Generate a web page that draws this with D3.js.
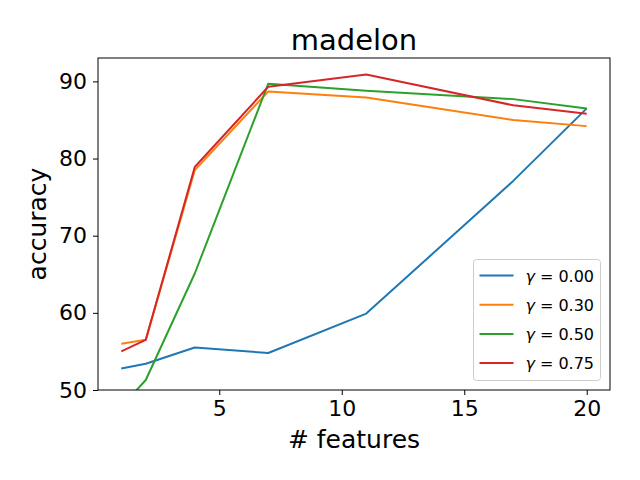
<!DOCTYPE html>
<html>
<head>
<meta charset="utf-8">
<script src="https://cdn.jsdelivr.net/npm/d3@7"></script>
<style>
  body { margin: 0; background: white; }
  svg { font-family: "DejaVu Sans", sans-serif; }
</style>
</head>
<body>
<svg id="chart" width="640" height="480"></svg>
<script>
// data
const features = [1, 2, 4, 7, 11, 17, 20];
const gammaLabels = ["0.00", "0.30", "0.50", "0.75"];
const acc_g000 = [52.8, 53.4, 55.5, 54.8, 59.9, 77.1, 86.5];
const acc_g030 = [56.0, 56.5, 78.5, 88.7, 87.9, 85.0, 84.2];
const acc_g050 = [47.8, 51.3, 65.1, 89.7, 88.8, 87.7, 86.5];
const acc_g075 = [55.0, 56.5, 78.9, 89.3, 90.9, 86.9, 85.8];
const xTicks = [5, 10, 15, 20];
const yTicks = [50, 60, 70, 80, 90];

const seriesList = [acc_g000, acc_g030, acc_g050, acc_g075];
const colors = ["#1f77b4", "#ff7f0e", "#2ca02c", "#d62728"];

const margin = { top: 58, right: 30, bottom: 90, left: 98 },
      width = 640 - margin.left - margin.right,
      height = 480 - margin.top - margin.bottom;

const svg = d3.select("#chart");
const g = svg.append("g").attr("transform", `translate(${margin.left},${margin.top})`);

const x = d3.scaleLinear().domain([0.05, 20.95]).range([0, width]);
const y = d3.scaleLinear().domain([50, 93.03]).range([height, 0]);

g.append("clipPath").attr("id", "clip")
  .append("rect").attr("width", width).attr("height", height);

// axes
const xAxis = g.append("g")
  .attr("transform", `translate(0,${height})`)
  .call(d3.axisBottom(x).tickValues(xTicks).tickSize(5).tickPadding(5));
const yAxis = g.append("g")
  .call(d3.axisLeft(y).tickValues(yTicks).tickSize(5).tickPadding(6));
[xAxis, yAxis].forEach(a => {
  a.select(".domain").remove();
  a.selectAll("text").attr("font-size", 22).attr("fill", "black")
    .attr("font-family", "DejaVu Sans, sans-serif");
  a.selectAll("line").attr("stroke", "black").attr("stroke-width", 1);
});

// lines
const line = d3.line().x((d, i) => x(features[i])).y(d => y(d));
seriesList.forEach((s, k) => {
  g.append("path")
    .datum(s)
    .attr("clip-path", "url(#clip)")
    .attr("fill", "none")
    .attr("stroke", colors[k])
    .attr("stroke-width", 2)
    .attr("stroke-linejoin", "round")
    .attr("d", line);
});

// frame
g.append("rect").attr("width", width).attr("height", height)
  .attr("fill", "none").attr("stroke", "black").attr("stroke-width", 1);

// labels
svg.append("text").attr("x", margin.left + width / 2).attr("y", 50)
  .attr("text-anchor", "middle").attr("font-size", 29).text("madelon");
svg.append("text").attr("x", margin.left + width / 2).attr("y", 448)
  .attr("text-anchor", "middle").attr("font-size", 25).text("# features");
svg.append("text")
  .attr("transform", `translate(45.5,${margin.top + height / 2}) rotate(-90)`)
  .attr("text-anchor", "middle").attr("font-size", 25).text("accuracy");

// legend
const lg = svg.append("g").attr("transform", "translate(473.5,259.5)");
lg.append("rect").attr("width", 127).attr("height", 121).attr("rx", 3)
  .attr("fill", "white").attr("fill-opacity", 0.8)
  .attr("stroke", "#cccccc").attr("stroke-width", 1);
gammaLabels.forEach((lab, k) => {
  const yy = 16 + k * 29.2;
  lg.append("line").attr("x1", 6).attr("x2", 40).attr("y1", yy).attr("y2", yy)
    .attr("stroke", colors[k]).attr("stroke-width", 2);
  const t = lg.append("text").attr("x", 52).attr("y", yy + 6).attr("font-size", 16);
  t.append("tspan").attr("font-style", "italic").text("γ");
  t.append("tspan").attr("dx", 5).text("=");
  t.append("tspan").attr("dx", 5).text(lab);
});
</script>
</body>
</html>
